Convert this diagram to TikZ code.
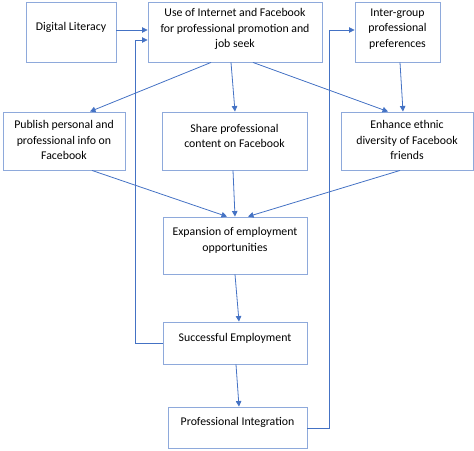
\documentclass[tikz,border=0pt]{standalone}
\usepackage{xcolor}
\usepackage{fontspec}
\setmainfont{Carlito}
\usepackage{tikz}
\usetikzlibrary{positioning,arrows.meta}

\definecolor{boxline}{HTML}{8EA9DB}
\definecolor{arrline}{HTML}{4472C4}

\begin{document}
\begin{tikzpicture}[x=1pt,y=-1pt,>={Triangle[length=5.5pt,width=5.5pt]},
  font=\fontsize{11.8}{15.5}\selectfont]
  \tikzstyle{every box}=[draw=boxline,line width=0.9pt,inner sep=0pt]
  \tikzstyle{txt}=[align=center,yshift=5pt]
  \tikzstyle{link}=[draw=arrline,line width=0.8pt,->]
  \useasboundingbox (0,0) rectangle (474,450);

  \node[every box,minimum width=90,minimum height=60,
        label={[txt]center:Digital Literacy}]            (dl)    at (71,32)    {};
  \node[every box,minimum width=174,minimum height=60,
        label={[txt,yshift=-2pt]center:{Use of Internet and Facebook\\for professional promotion and\\job seek}}]
                                                          (use)   at (235,32)   {};
  \node[every box,minimum width=85,minimum height=60,
        label={[txt,yshift=-2pt]center:{Inter-group\\professional\\preferences}}]
                                                          (inter) at (397.5,32) {};
  \node[every box,minimum width=122,minimum height=58,
        label={[txt,yshift=-4pt]center:{Publish personal and\\professional info on\\Facebook}}]
                                                          (pub)   at (64,141)   {};
  \node[every box,minimum width=145,minimum height=58,
        label={[txt]center:{Share professional\\content on Facebook}}]
                                                          (share) at (234.5,141) {};
  \node[every box,minimum width=132,minimum height=58,
        label={[txt,yshift=-4pt]center:{Enhance ethnic\\diversity of Facebook\\friends}}]
                                                          (enh)   at (407,141)  {};
  \node[every box,minimum width=144,minimum height=57,
        label={[txt]center:{Expansion of employment\\opportunities}}]
                                                          (exp)   at (235,245.5) {};
  \node[every box,minimum width=144,minimum height=42,
        label={[txt]center:Successful Employment}]       (succ)  at (235,343)  {};
  \node[every box,minimum width=139,minimum height=41,
        label={[txt]center:Professional Integration}]    (integ) at (237.5,427.5) {};

  % feedback loops
  \coordinate (fbl) at (135,343);
  \coordinate (fbr) at (329,428);
  \path[link] (dl.east |- 0,30) -- (use.west |- 0,30);
  \path[link] (succ.west) -- (fbl) |- (use.west |- 0,40);
  \path[link] (integ.east |- fbr) -- (fbr) |- (inter.west |- 0,30);

  \path[link] ([xshift=-24]use.south) -- ([xshift=26]pub.north);
  \path[link] ([xshift=-4]use.south)  -- ([xshift=0.5]share.north);
  \path[link] ([xshift=18]use.south)  -- ([xshift=-19]enh.north);
  \path[link] ([xshift=2.5]inter.south) -- ([xshift=-4]enh.north);

  \path[link] ([xshift=28]pub.south)  -- ([xshift=-8]exp.north);
  \path[link] ([xshift=-1.5]share.south) -- (exp.north);
  \path[link] ([xshift=-7]enh.south)  -- ([xshift=13]exp.north);

  \path[link] (exp.south)  -- ([xshift=4]succ.north);
  \path[link] ([xshift=1]succ.south) -- ([xshift=1.5]integ.north);
\end{tikzpicture}
\end{document}
